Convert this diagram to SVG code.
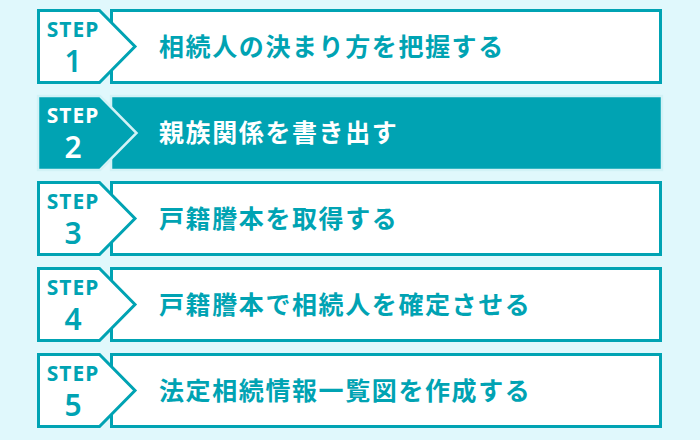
<svg xmlns="http://www.w3.org/2000/svg" width="700" height="440" viewBox="0 0 700 440">
<style>
.bg{fill:#e0f8fc}
.box{fill:#ffffff;stroke:#00a3b3;stroke-width:3}
.boxa{fill:#00a3b3;stroke:#d2f2f6;stroke-width:2.5}
.step{font-family:"Noto Sans","Open Sans",sans-serif;font-weight:700;font-size:21px;letter-spacing:1px;fill:#00a3b3;text-anchor:middle}
.num{font-family:"Noto Sans","Open Sans",sans-serif;font-weight:600;font-size:30px;fill:#00a3b3;text-anchor:middle}
.lbl{font-family:"Noto Sans CJK JP","Noto Sans",sans-serif;font-weight:700;font-size:25px;letter-spacing:1.6px;fill:#00a3b3}
.act .step,.act .num,.act .lbl{fill:#ffffff}
</style>
<rect class="bg" x="0" y="0" width="700" height="440"/>
<g id="step1">
<rect class="box" x="111.5" y="10.5" width="549" height="72"/>
<polygon class="box" points="38.5,10.5 99.5,10.5 135,46.5 99.5,82.5 38.5,82.5"/>
<text class="step" x="73" y="37">STEP</text>
<text class="num" x="73" y="72">1</text>
<text class="lbl" x="159" y="56">相続人の決まり方を把握する</text>
</g>
<g id="step2" class="act">
<rect class="boxa" x="111" y="96" width="551" height="74"/>
<polygon class="boxa" points="38,96 100,96 136.5,133 100,170 38,170"/>
<text class="step" x="73" y="123">STEP</text>
<text class="num" x="73" y="158">2</text>
<text class="lbl" x="159" y="142">親族関係を書き出す</text>
</g>
<g id="step3">
<rect class="box" x="111.5" y="182.5" width="549" height="72"/>
<polygon class="box" points="38.5,182.5 99.5,182.5 135,218.5 99.5,254.5 38.5,254.5"/>
<text class="step" x="73" y="209">STEP</text>
<text class="num" x="73" y="244">3</text>
<text class="lbl" x="159" y="228">戸籍謄本を取得する</text>
</g>
<g id="step4">
<rect class="box" x="111.5" y="268.5" width="549" height="72"/>
<polygon class="box" points="38.5,268.5 99.5,268.5 135,304.5 99.5,340.5 38.5,340.5"/>
<text class="step" x="73" y="295">STEP</text>
<text class="num" x="73" y="330">4</text>
<text class="lbl" x="159" y="314">戸籍謄本で相続人を確定させる</text>
</g>
<g id="step5">
<rect class="box" x="111.5" y="354.5" width="549" height="72"/>
<polygon class="box" points="38.5,354.5 99.5,354.5 135,390.5 99.5,426.5 38.5,426.5"/>
<text class="step" x="73" y="381">STEP</text>
<text class="num" x="73" y="416">5</text>
<text class="lbl" x="159" y="400">法定相続情報一覧図を作成する</text>
</g>
<g id="connectors"></g>
</svg>
